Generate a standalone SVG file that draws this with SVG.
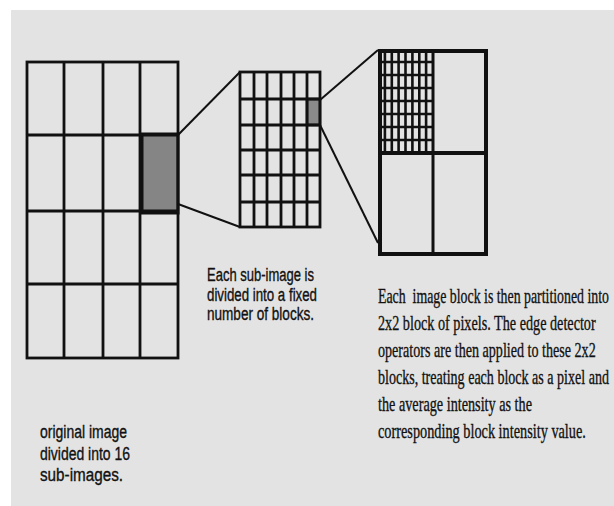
<svg xmlns="http://www.w3.org/2000/svg" width="614" height="506" viewBox="0 0 614 506">
<style>
.g{fill:none;stroke:#111;stroke-width:2.8}
.f{fill:none;stroke:#111;stroke-width:2.6}
.c{fill:none;stroke:#111;stroke-width:2}
.s{font-family:"Liberation Sans",Arial,sans-serif;font-size:18px;fill:#111;stroke:#111;stroke-width:0.35}
.t{font-family:"Liberation Serif","Times New Roman",serif;font-size:19px;fill:#111;stroke:#111;stroke-width:0.3}
</style>
<rect x="0" y="0" width="614" height="506" fill="#ffffff"/>
<rect x="11" y="10" width="603" height="496" fill="#e3e3e3"/>

<g id="original-image">
<rect x="142" y="134" width="36" height="79" fill="#858585" stroke="#111" stroke-width="3"/>
<rect class="g" x="27" y="62" width="151" height="296"/>
<path class="g" d="M64 62V358M103 62V358M140 62V358M27 135H178M27 211H178M27 284H178"/>
</g>

<g id="sub-image">
<rect x="307" y="99" width="13" height="26" fill="#8a8a8a" stroke="#111" stroke-width="2.5"/>
<rect class="g" x="240" y="72" width="80" height="155"/>
<path class="g" d="M254 72V227M267 72V227M281 72V227M294 72V227M307 72V227M240 99H320M240 125H320M240 150H320M240 175H320M240 202H320"/>
</g>

<g id="image-block">
<path class="f" d="M384.9 50V153M391.8 50V153M398.6 50V153M405.5 50V153M412.4 50V153M419.3 50V153M426.1 50V153M378 62H433M378 75H433M378 88H433M378 101H433M378 114H433M378 127H433M378 140H433"/>
<rect x="380" y="51" width="106" height="203" fill="none" stroke="#111" stroke-width="4"/>
<path fill="none" stroke="#111" stroke-width="4" d="M378 153H488"/>
<path fill="none" stroke="#111" stroke-width="3" d="M433 50V256"/>
</g>

<g id="connectors">
<path class="c" d="M178 135L240 72"/>
<path class="c" d="M178 204L240 227"/>
<path class="c" d="M320 100L378 50"/>
<path class="c" d="M320 125L378 243"/>
</g>

<g id="label-original">
<text class="s" x="40" y="438" textLength="87" lengthAdjust="spacingAndGlyphs">original image</text>
<text class="s" x="40" y="460" textLength="90" lengthAdjust="spacingAndGlyphs">divided into 16</text>
<text class="s" x="40" y="481" textLength="83" lengthAdjust="spacingAndGlyphs">sub-images.</text>
</g>

<g id="label-sub-image">
<text class="s" x="207" y="281" textLength="107" lengthAdjust="spacingAndGlyphs">Each sub-image is</text>
<text class="s" x="207" y="301" textLength="110" lengthAdjust="spacingAndGlyphs">divided into a fixed</text>
<text class="s" x="207" y="320" textLength="107" lengthAdjust="spacingAndGlyphs">number of blocks.</text>
</g>

<g id="label-image-block" transform="translate(378 0) scale(0.7 1.1)">
<text class="t" x="0" y="275.5" textLength="330" lengthAdjust="spacingAndGlyphs">Each&#160; image block is then partitioned into</text>
<text class="t" x="0" y="300" textLength="311" lengthAdjust="spacingAndGlyphs">2x2 block of pixels. The edge detector</text>
<text class="t" x="0" y="324.5" textLength="311" lengthAdjust="spacingAndGlyphs">operators are then applied to these 2x2</text>
<text class="t" x="0" y="349.1" textLength="330" lengthAdjust="spacingAndGlyphs">blocks, treating each block as a pixel and</text>
<text class="t" x="0" y="373.6" textLength="220" lengthAdjust="spacingAndGlyphs">the average intensity as the</text>
<text class="t" x="0" y="398.2" textLength="297" lengthAdjust="spacingAndGlyphs">corresponding block intensity value.</text>
</g>
</svg>
